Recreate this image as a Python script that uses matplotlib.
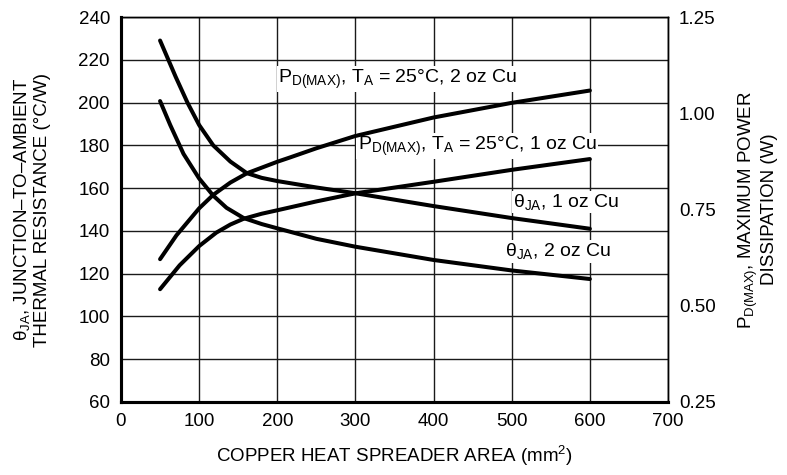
import matplotlib
matplotlib.use("Agg")
import matplotlib.pyplot as plt
from matplotlib.ticker import FormatStrFormatter

plt.rcParams['font.family'] = ['Liberation Sans', 'DejaVu Sans']
plt.rcParams['mathtext.fontset'] = 'custom'
plt.rcParams['mathtext.rm'] = 'Liberation Sans'
plt.rcParams['mathtext.it'] = 'Liberation Sans'

# Junction-to-ambient thermal resistance (°C/W) vs copper area (mm^2)
area_theta_1oz = [50, 60, 70, 85, 100, 118, 140, 161, 180, 200, 250, 300, 400, 500, 600]
theta_1oz = [229, 220.5, 212, 200, 189.5, 180, 172.4, 167, 164.8, 163.3, 160.3, 157.6, 151.6, 146, 141]

area_theta_2oz = [50, 63, 80, 100, 118, 135, 157, 180, 200, 250, 300, 400, 500, 600]
theta_2oz = [200.7, 189.5, 176, 164.5, 156.5, 150.8, 146, 143.2, 141.2, 136.3, 132.6, 126.4, 121.5, 117.5]

# Maximum power dissipation (W) at TA = 25 °C
area_pd_2oz = [50, 71, 100, 118, 140, 161, 200, 216, 250, 300, 400, 500, 600]
pd_2oz = [0.621, 0.683, 0.753, 0.788, 0.82, 0.844, 0.874, 0.885, 0.909, 0.941, 0.989, 1.027, 1.059]

area_pd_1oz = [50, 75, 100, 122, 140, 157, 180, 200, 250, 300, 400, 500, 600]
pd_1oz = [0.543, 0.605, 0.655, 0.69, 0.711, 0.726, 0.739, 0.748, 0.771, 0.792, 0.822, 0.853, 0.881]

x_ticks = [0, 100, 200, 300, 400, 500, 600, 700]
theta_ticks = [60, 80, 100, 120, 140, 160, 180, 200, 220, 240]
pd_ticks = [0.25, 0.50, 0.75, 1.00, 1.25]

W, H = 787, 475
fig = plt.figure(figsize=(W / 100, H / 100), dpi=100)
ax = fig.add_axes([121 / W, 1 - 402 / H, (668 - 121) / W, (402 - 17) / H])
ax2 = ax.twinx()

lw = 2.9
style = dict(color='black', lw=lw, solid_capstyle='round', solid_joinstyle='round', zorder=5)
ax.plot(area_theta_1oz, theta_1oz, **style)
ax.plot(area_theta_2oz, theta_2oz, **style)
ax2.plot(area_pd_2oz, pd_2oz, **style)
ax2.plot(area_pd_1oz, pd_1oz, **style)

ax.set_xlim(0, 700)
ax.set_ylim(60, 240)
ax2.set_ylim(0.25, 1.25)
ax.set_xticks(x_ticks)
ax.set_yticks(theta_ticks)
ax2.set_yticks(pd_ticks)
ax2.yaxis.set_major_formatter(FormatStrFormatter('%.2f'))

ax.grid(True, color='#1a1a1a', lw=1.0)
ax.set_axisbelow(True)

fs = 13.5
ax.tick_params(axis='both', length=0, labelsize=fs, pad=8)
ax2.tick_params(axis='y', length=0, labelsize=fs, pad=8)

for a in (ax, ax2):
    a.spines['left'].set_linewidth(2.2)
    a.spines['bottom'].set_linewidth(2.2)
    a.spines['top'].set_linewidth(1.0)
    a.spines['right'].set_linewidth(1.0)
    a.set_facecolor('none')

ax.set_xlabel(r'COPPER HEAT SPREADER AREA (mm$^{\mathregular{2}}$)', fontsize=fs, labelpad=10)
ax.set_ylabel('θ$_{\\mathregular{JA}}$, JUNCTION–TO–AMBIENT\nTHERMAL RESISTANCE (°C/W)',
              fontsize=fs, linespacing=1.1, labelpad=20)
ax2.set_ylabel('P$_{\\mathregular{D(MAX)}}$, MAXIMUM POWER\nDISSIPATION (W)',
               fontsize=fs, linespacing=1.1, labelpad=15)

box = dict(facecolor='white', edgecolor='none', pad=1.0)
ann = 14
ax.text(201, 211, 'P$_{\\mathregular{D(MAX)}}$, T$_{\\mathregular{A}}$ = 25°C, 2 oz Cu',
        fontsize=ann, va='center', ha='left', bbox=box, zorder=4)
ax.text(303, 179.5, 'P$_{\\mathregular{D(MAX)}}$, T$_{\\mathregular{A}}$ = 25°C, 1 oz Cu',
        fontsize=ann, va='center', ha='left', bbox=box, zorder=4)
ax.text(502, 153.5, 'θ$_{\\mathregular{JA}}$, 1 oz Cu',
        fontsize=ann, va='center', ha='left', bbox=box, zorder=4)
ax.text(491, 130.5, 'θ$_{\\mathregular{JA}}$, 2 oz Cu',
        fontsize=ann, va='center', ha='left', bbox=box, zorder=4)

fig.savefig('out.png', dpi=100)
